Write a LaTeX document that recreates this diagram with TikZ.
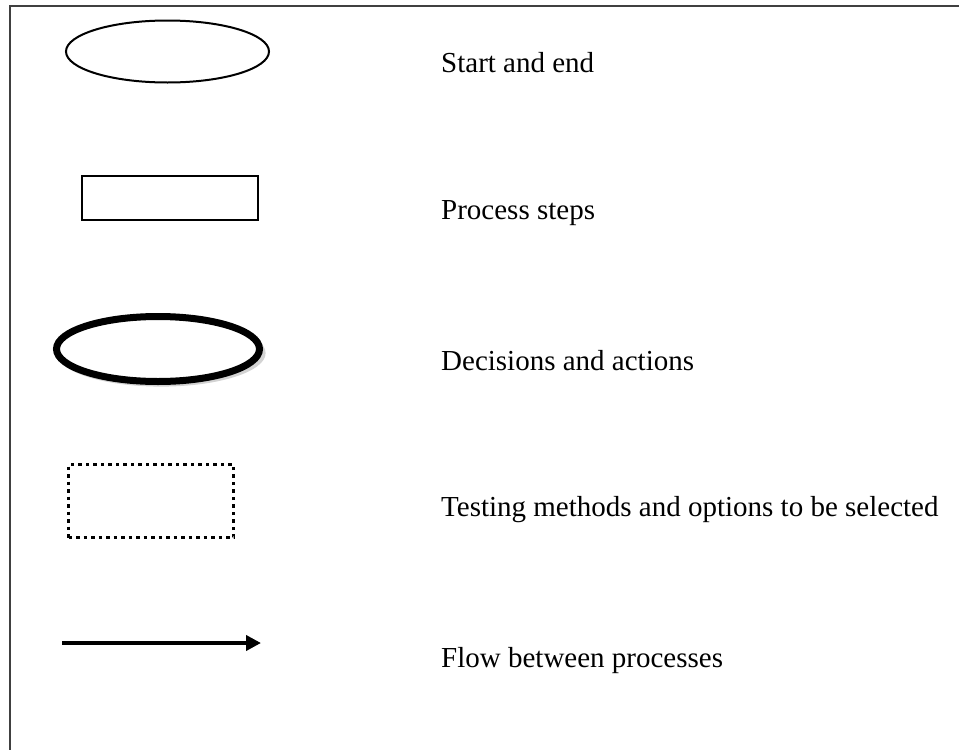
\documentclass[tikz,border=0pt]{standalone}
\usepackage{fontspec}
\setmainfont{Liberation Serif}
\usetikzlibrary{shapes.geometric,shadows,arrows.meta}
\tikzset{
    terminal/.style={ellipse, draw=black, line width=2pt, inner sep=0pt, minimum width=203pt, minimum height=62pt},
    procbox/.style={rectangle, draw=black, line width=2.3pt, inner sep=0pt, minimum width=176pt, minimum height=44pt},
    decide/.style={ellipse, draw=black, fill=white, line width=7pt, inner sep=0pt, minimum width=203pt, minimum height=65pt,
        drop shadow={opacity=0.35, shadow scale=1.03, shadow xshift=3pt, shadow yshift=-4pt}},
    testbox/.style={rectangle, draw=black, line width=3.5pt, dash pattern=on 3.5pt off 4pt, inner sep=0pt, minimum width=165pt, minimum height=73pt},
    flowline/.style={draw=black, line width=4pt, -{Triangle[length=15pt,width=15pt]}},
    legendtext/.style={anchor=base west, inner sep=0pt}
}

\begin{document}
\begin{tikzpicture}
  [
    x                 = 1pt,
    y                 = -1pt,
    every node/.style = {font=\fontsize{29pt}{34pt}\selectfont},
  ]
  \path [use as bounding box] (0,0) rectangle (959,750);
  \draw [line width=1.8pt, black!75] (10,750) -- (10,6) -- (959,6);

  \node [terminal] (start) at (167.5,51.5) {};
  \node [procbox]  (proc)  at (170,198) {};
  \node [decide]   (dec)   at (158,349) {};
  \node [testbox]  (test)  at (151,501) {};
  \coordinate (flowA) at (62,643);
  \coordinate (flowB) at (261,643);
  \draw [flowline] (flowA) -- (flowB);

  \node [legendtext] (startlbl) at (441,72.3)  {Start and end};
  \node [legendtext] (proclbl)  at (441,219.3) {Process steps};
  \node [legendtext] (declbl)   at (441,370)   {Decisions and actions};
  \node [legendtext] (testlbl)  at (441,516)   {Testing methods and options to be selected};
  \node [legendtext] (flowlbl)  at (441,667.3) {Flow between processes};
\end{tikzpicture}
\end{document}
